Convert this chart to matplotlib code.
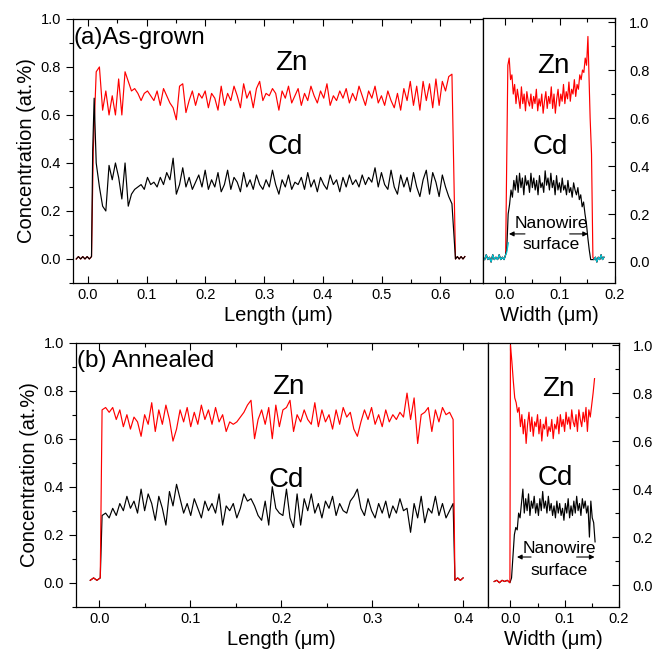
import numpy as np
import matplotlib
matplotlib.use("Agg")
import matplotlib.pyplot as plt
from matplotlib.ticker import MultipleLocator

plt.rcParams["font.family"] = ["Liberation Sans", "DejaVu Sans"]

# ---------------- (a) as-grown, length profile ----------------
a_len_base_pre = [0.0, 0.01, 0.0, 0.01, 0.0, 0.01, 0.0, 0.01]
a_len_base_post = [0.0, 0.01, 0.0, 0.01, 0.0, 0.01]
a_len_zn = [
    0.78, 0.80, 0.62, 0.70, 0.60, 0.68, 0.60, 0.75, 0.60,
    0.78, 0.74, 0.70, 0.71, 0.69, 0.66, 0.69, 0.70, 0.68,
    0.66, 0.70, 0.64, 0.71, 0.68, 0.65, 0.63, 0.58, 0.72,
    0.73, 0.61, 0.66, 0.70, 0.64, 0.69, 0.67, 0.70, 0.63,
    0.69, 0.67, 0.62, 0.72, 0.64, 0.69, 0.66, 0.72, 0.68,
    0.63, 0.73, 0.67, 0.70, 0.63, 0.71, 0.74, 0.66, 0.69,
    0.68, 0.71, 0.69, 0.62, 0.70, 0.67, 0.72, 0.65, 0.68,
    0.71, 0.64, 0.69, 0.66, 0.72, 0.68, 0.65, 0.70, 0.67,
    0.73, 0.64, 0.68, 0.66, 0.70, 0.67, 0.71, 0.65, 0.69,
    0.66, 0.72, 0.68, 0.64, 0.70, 0.67, 0.72, 0.65, 0.68,
    0.64, 0.70, 0.66, 0.63, 0.69, 0.62, 0.71, 0.66, 0.74,
    0.64, 0.72, 0.62, 0.74, 0.66, 0.73, 0.63, 0.75, 0.64,
    0.74, 0.70, 0.76, 0.77,
]
a_len_cd = [
    0.40, 0.30, 0.22, 0.20, 0.39, 0.33, 0.40, 0.34, 0.25,
    0.40, 0.22, 0.27, 0.29, 0.30, 0.31, 0.29, 0.34, 0.31,
    0.32, 0.30, 0.34, 0.31, 0.36, 0.33, 0.42, 0.27, 0.31,
    0.38, 0.30, 0.34, 0.29, 0.32, 0.35, 0.30, 0.37, 0.29,
    0.33, 0.30, 0.36, 0.28, 0.31, 0.37, 0.29, 0.34, 0.32,
    0.28, 0.36, 0.30, 0.33, 0.29, 0.35, 0.31, 0.29, 0.33,
    0.30, 0.37, 0.31, 0.27, 0.33, 0.30, 0.35, 0.29, 0.32,
    0.31, 0.34, 0.29, 0.36, 0.30, 0.33, 0.28, 0.34, 0.31,
    0.29, 0.35, 0.31, 0.33, 0.28, 0.34, 0.30, 0.35, 0.31,
    0.33, 0.30, 0.35, 0.31, 0.34, 0.32, 0.38, 0.30, 0.36,
    0.31, 0.29, 0.37, 0.30, 0.27, 0.35, 0.30, 0.34, 0.28,
    0.36, 0.30, 0.26, 0.33, 0.37, 0.27, 0.36, 0.32, 0.26,
    0.35, 0.30, 0.26, 0.23,
]

# ---------------- (a) as-grown, width profile ----------------
a_wid_base_pre = [0.01, 0.03, 0.01, 0.02, 0.00, 0.03, 0.01, 0.02, 0.01, 0.03, 0.01, 0.02, 0.01, 0.03]
a_wid_base_post = [0.01, 0.02, 0.00, 0.02, 0.01, 0.03, 0.01, 0.02]
a_wid_zn = [
    0.82, 0.85, 0.76, 0.78, 0.70, 0.74, 0.66, 0.72, 0.68, 0.64,
    0.73, 0.66, 0.70, 0.63, 0.71, 0.67, 0.65, 0.70, 0.64, 0.69,
    0.66, 0.72, 0.63, 0.68, 0.65, 0.70, 0.62, 0.67, 0.71, 0.64,
    0.69, 0.66, 0.73, 0.64, 0.70, 0.62, 0.68, 0.72, 0.65, 0.70,
    0.67, 0.74, 0.66, 0.71, 0.68, 0.75, 0.67, 0.72, 0.70, 0.76,
    0.69, 0.74, 0.72, 0.78, 0.76, 0.80, 0.79, 0.85, 0.82, 0.94,
]
a_wid_zn_drop = [0.60, 0.45, 0.02]
a_wid_cd = [
    0.05, 0.20, 0.24, 0.30, 0.27, 0.34, 0.30, 0.36, 0.29, 0.37,
    0.31, 0.35, 0.28, 0.36, 0.32, 0.34, 0.29, 0.37, 0.31, 0.35,
    0.30, 0.34, 0.28, 0.36, 0.31, 0.33, 0.29, 0.38, 0.32, 0.35,
    0.30, 0.37, 0.31, 0.34, 0.28, 0.36, 0.30, 0.33, 0.29, 0.35,
    0.30, 0.32, 0.28, 0.34, 0.29, 0.31, 0.27, 0.33, 0.30, 0.28,
    0.31, 0.26, 0.28, 0.23, 0.25, 0.20, 0.16, 0.10, 0.05, 0.01,
]
a_wid_cyan_rise = [0.04, 0.08]

# ---------------- (b) annealed, length profile ----------------
b_len_base_pre = [0.01, 0.02, 0.01, 0.02]
b_len_base_post = [0.01, 0.02, 0.01, 0.02]
b_len_zn = [
    0.72, 0.73, 0.71, 0.73, 0.68, 0.72, 0.65, 0.70, 0.64, 0.69,
    0.67, 0.61, 0.70, 0.66, 0.75, 0.63, 0.72, 0.66, 0.74, 0.68,
    0.59, 0.64, 0.72, 0.67, 0.73, 0.65, 0.71, 0.66, 0.74, 0.68,
    0.72, 0.66, 0.73, 0.67, 0.70, 0.63, 0.67, 0.66, 0.67, 0.69,
    0.71, 0.74, 0.76, 0.60, 0.68, 0.72, 0.66, 0.73, 0.60, 0.74,
    0.65, 0.72, 0.73, 0.76, 0.63, 0.70, 0.67, 0.72, 0.68, 0.66,
    0.75, 0.65, 0.72, 0.67, 0.70, 0.64, 0.72, 0.66, 0.73, 0.69,
    0.71, 0.64, 0.61, 0.67, 0.72, 0.68, 0.73, 0.66, 0.70, 0.65,
    0.72, 0.67, 0.70, 0.68, 0.71, 0.69, 0.79, 0.68, 0.77, 0.58,
    0.70, 0.71, 0.73, 0.63, 0.72, 0.67, 0.73, 0.70, 0.71, 0.68,
]
b_len_cd = [
    0.28, 0.29, 0.27, 0.31, 0.28, 0.33, 0.30, 0.36, 0.31, 0.34,
    0.29, 0.39, 0.30, 0.37, 0.33, 0.26, 0.36, 0.31, 0.24, 0.38,
    0.32, 0.41, 0.35, 0.29, 0.33, 0.28, 0.35, 0.31, 0.27, 0.34,
    0.30, 0.33, 0.29, 0.37, 0.24, 0.32, 0.30, 0.33, 0.27, 0.31,
    0.37, 0.34, 0.35, 0.32, 0.28, 0.26, 0.34, 0.24, 0.40, 0.31,
    0.29, 0.28, 0.39, 0.27, 0.23, 0.37, 0.24, 0.35, 0.30, 0.37,
    0.29, 0.33, 0.27, 0.34, 0.31, 0.36, 0.28, 0.33, 0.30, 0.29,
    0.34, 0.36, 0.39, 0.31, 0.28, 0.35, 0.30, 0.27, 0.33, 0.29,
    0.34, 0.27, 0.32, 0.29, 0.35, 0.30, 0.31, 0.21, 0.33, 0.27,
    0.36, 0.25, 0.31, 0.29, 0.36, 0.28, 0.33, 0.27, 0.30, 0.33,
]

# ---------------- (b) annealed, width profile ----------------
b_wid_base_pre = [0.015, 0.02, 0.01, 0.02, 0.015, 0.02, 0.01]
b_wid_zn = [
    1.00, 0.93, 0.85, 0.78, 0.76, 0.72, 0.74, 0.66, 0.71, 0.63,
    0.69, 0.59, 0.67, 0.72, 0.64, 0.70, 0.62, 0.68, 0.66, 0.71,
    0.63, 0.69, 0.60, 0.67, 0.65, 0.70, 0.62, 0.66, 0.64, 0.69,
    0.61, 0.67, 0.65, 0.70, 0.63, 0.71, 0.66, 0.69, 0.64, 0.72,
    0.67, 0.70, 0.65, 0.73, 0.68, 0.66, 0.71, 0.64, 0.73, 0.69,
    0.66, 0.72, 0.68, 0.74, 0.64, 0.73, 0.70, 0.75, 0.80, 0.86,
]
b_wid_cd = [
    0.03, 0.12, 0.21, 0.24, 0.23, 0.30, 0.28, 0.34, 0.40, 0.30,
    0.36, 0.31, 0.38, 0.29, 0.35, 0.32, 0.37, 0.30, 0.34, 0.29,
    0.36, 0.31, 0.39, 0.32, 0.35, 0.30, 0.37, 0.31, 0.34, 0.29,
    0.33, 0.28, 0.35, 0.30, 0.34, 0.29, 0.32, 0.27, 0.34, 0.30,
    0.36, 0.28, 0.33, 0.29, 0.35, 0.30, 0.37, 0.31, 0.34, 0.29,
    0.36, 0.32, 0.35, 0.30, 0.33, 0.20, 0.35, 0.28, 0.26, 0.18,
]

RED = "#ff0000"
LW = 0.85
TICK_FS = 10.5
LABEL_FS = 14.5
BIG_FS = 20
TAG_FS = 17.5
NOTE_FS = 12.5

fig = plt.figure(figsize=(6.6, 6.54), dpi=100)


def style_left(ax, xlim):
    ax.set_xlim(*xlim)
    ax.set_ylim(-0.1, 1.0)
    ax.xaxis.set_major_locator(MultipleLocator(0.1))
    ax.xaxis.set_minor_locator(MultipleLocator(0.05))
    ax.yaxis.set_major_locator(MultipleLocator(0.2))
    ax.yaxis.set_minor_locator(MultipleLocator(0.1))
    ax.tick_params(axis="x", which="both", direction="in", top=True, bottom=True,
                   labelsize=TICK_FS)
    ax.tick_params(axis="y", which="both", direction="out", left=True, right=False,
                   labelsize=TICK_FS)
    ax.tick_params(which="major", length=5, width=0.8)
    ax.tick_params(which="minor", length=3, width=0.8)
    ax.yaxis.set_major_formatter(plt.FuncFormatter(lambda v, p: f"{v:.1f}"))
    ax.xaxis.set_major_formatter(plt.FuncFormatter(lambda v, p: f"{v:.1f}"))
    ax.set_ylabel("Concentration (at.%)", fontsize=LABEL_FS, labelpad=3)
    ax.set_xlabel("Length (μm)", fontsize=LABEL_FS, labelpad=3)
    for s in ax.spines.values():
        s.set_linewidth(0.9)


def style_right(ax, xlim, ylim):
    ax.set_xlim(*xlim)
    ax.set_ylim(*ylim)
    ax.xaxis.set_major_locator(MultipleLocator(0.1))
    ax.xaxis.set_minor_locator(MultipleLocator(0.05))
    ax.yaxis.set_major_locator(MultipleLocator(0.2))
    ax.yaxis.set_minor_locator(MultipleLocator(0.1))
    ax.tick_params(axis="x", which="both", direction="in", top=True, bottom=True,
                   labelsize=TICK_FS)
    ax.tick_params(axis="y", which="both", direction="in", left=False, right=True,
                   labelleft=False, labelright=True, labelsize=TICK_FS, pad=10)
    ax.tick_params(which="major", length=5, width=0.8)
    ax.tick_params(which="minor", length=3, width=0.8)
    ax.yaxis.set_major_formatter(plt.FuncFormatter(lambda v, p: f"{v:.1f}"))
    ax.xaxis.set_major_formatter(plt.FuncFormatter(lambda v, p: f"{v:.1f}"))
    ax.set_xlabel("Width (μm)", fontsize=LABEL_FS, labelpad=3)
    for s in ax.spines.values():
        s.set_linewidth(0.9)


def nanowire_note(ax, x_txt, y_txt, y_arrow, left_arrow, right_arrow):
    ax.text(x_txt, y_txt, "Nanowire", fontsize=NOTE_FS, ha="center", va="center")
    ax.text(x_txt, y_txt - 0.09, "surface", fontsize=NOTE_FS, ha="center", va="center")
    ax.annotate("", xy=(left_arrow[1], y_arrow), xytext=(left_arrow[0], y_arrow),
                arrowprops=dict(arrowstyle="-|>", color="black", lw=0.8,
                                mutation_scale=7, shrinkA=0, shrinkB=0))
    ax.annotate("", xy=(right_arrow[1], y_arrow), xytext=(right_arrow[0], y_arrow),
                arrowprops=dict(arrowstyle="-|>", color="black", lw=0.8,
                                mutation_scale=7, shrinkA=0, shrinkB=0))


# ---- top-left: as-grown length ----
ax1 = fig.add_axes([0.1102, 0.5673, 0.6217, 0.4037])
x_pre = np.linspace(-0.02, 0.006, len(a_len_base_pre))
x_post = np.linspace(0.626, 0.642, len(a_len_base_post))
x_zn = np.linspace(0.014, 0.62, len(a_len_zn))
x_cd = np.linspace(0.014, 0.62, len(a_len_cd))
ax1.plot(np.r_[x_pre, 0.009, x_zn, x_post], np.r_[a_len_base_pre, 0.45, a_len_zn, a_len_base_post],
         color=RED, lw=LW)
ax1.plot(np.r_[x_pre, 0.008, 0.0105, x_cd, x_post],
         np.r_[a_len_base_pre, 0.45, 0.67, a_len_cd, a_len_base_post],
         color="black", lw=LW)
style_left(ax1, (-0.026, 0.673))
ax1.text(-0.024, 0.92, "(a)As-grown", fontsize=TAG_FS, ha="left", va="center")
ax1.text(0.347, 0.817, "Zn", fontsize=BIG_FS, ha="center", va="center")
ax1.text(0.336, 0.465, "Cd", fontsize=BIG_FS, ha="center", va="center")

# ---- top-right: as-grown width ----
ax2 = fig.add_axes([0.7318, 0.5673, 0.2, 0.4052])
xw_pre = np.linspace(-0.036, 0.002, len(a_wid_base_pre))
xw_post = np.linspace(0.162, 0.18, len(a_wid_base_post))
xw_zn = np.linspace(0.006, 0.151, len(a_wid_zn))
xw_drop = np.linspace(0.155, 0.160, len(a_wid_zn_drop))
xw_cd = np.linspace(0.004, 0.156, len(a_wid_cd))
ax2.plot(np.r_[xw_pre, xw_zn, xw_drop, xw_post],
         np.r_[a_wid_base_pre, a_wid_zn, a_wid_zn_drop, a_wid_base_post],
         color=RED, lw=LW)
ax2.plot(np.r_[xw_pre, xw_cd, xw_post], np.r_[a_wid_base_pre, a_wid_cd, a_wid_base_post],
         color="black", lw=LW)
ax2.plot(np.r_[xw_pre, 0.004, 0.007], np.r_[a_wid_base_pre, a_wid_cyan_rise],
         color="#00c8d8", lw=LW)
ax2.plot(xw_post, a_wid_base_post, color="#00c8d8", lw=LW)
style_right(ax2, (-0.039, 0.2), (-0.0875, 1.017))
ax2.text(0.088, 0.817, "Zn", fontsize=BIG_FS, ha="center", va="center")
ax2.text(0.082, 0.479, "Cd", fontsize=BIG_FS, ha="center", va="center")
nanowire_note(ax2, 0.085, 0.162, 0.117, (0.037, 0.008), (0.118, 0.151))

# ---- bottom-left: annealed length ----
ax3 = fig.add_axes([0.1147, 0.0723, 0.6242, 0.4037])
xb_pre = np.linspace(-0.01, 0.001, len(b_len_base_pre))
xb_post = np.linspace(0.391, 0.40, len(b_len_base_post))
xb_zn = np.linspace(0.003, 0.389, len(b_len_zn))
xb_cd = np.linspace(0.003, 0.389, len(b_len_cd))
ax3.plot(np.r_[xb_pre, xb_cd, xb_post], np.r_[b_len_base_pre, b_len_cd, b_len_base_post],
         color="black", lw=LW)
ax3.plot(np.r_[xb_pre, xb_zn, xb_post], np.r_[b_len_base_pre, b_len_zn, b_len_base_post],
         color=RED, lw=LW)
style_left(ax3, (-0.026, 0.427))
ax3.text(-0.0245, 0.924, "(b) Annealed", fontsize=TAG_FS, ha="left", va="center")
ax3.text(0.208, 0.817, "Zn", fontsize=BIG_FS, ha="center", va="center")
ax3.text(0.206, 0.428, "Cd", fontsize=BIG_FS, ha="center", va="center")

# ---- bottom-right: annealed width ----
ax4 = fig.add_axes([0.7389, 0.0723, 0.1989, 0.4037])
xbw_pre = np.linspace(-0.03, -0.001, len(b_wid_base_pre))
xbw_zn = np.linspace(0.0, 0.155, len(b_wid_zn))
xbw_cd = np.linspace(0.002, 0.156, len(b_wid_cd))
ax4.plot(np.r_[xbw_pre, xbw_cd], np.r_[b_wid_base_pre, b_wid_cd], color="black", lw=LW)
ax4.plot(np.r_[xbw_pre, xbw_zn], np.r_[b_wid_base_pre, b_wid_zn], color=RED, lw=LW)
style_right(ax4, (-0.042, 0.2), (-0.09, 1.0096))
ax4.text(0.0877, 0.817, "Zn", fontsize=BIG_FS, ha="center", va="center")
ax4.text(0.0823, 0.444, "Cd", fontsize=BIG_FS, ha="center", va="center")
nanowire_note(ax4, 0.090, 0.152, 0.117, (0.038, 0.012), (0.122, 0.155))

fig.savefig("out.png", dpi=100)
